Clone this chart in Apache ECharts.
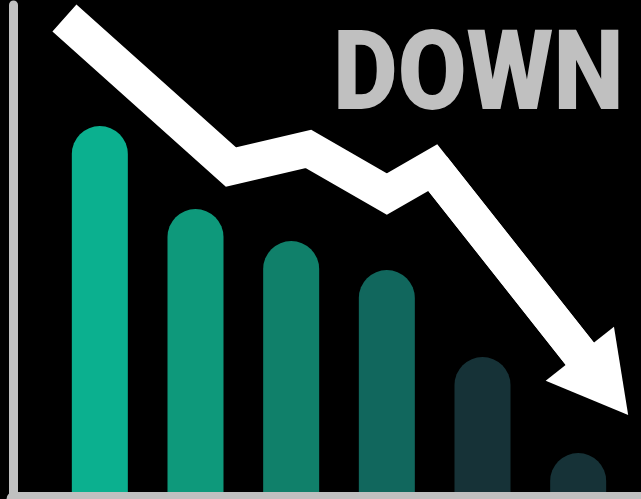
<!DOCTYPE html>
<html><head><meta charset="utf-8">
<script src="https://cdn.jsdelivr.net/npm/echarts@6/dist/echarts.min.js"></script>
<style>html,body{margin:0;padding:0;background:#000}#c{width:641px;height:499px}</style>
</head><body><div id="c"></div>
<script>
// ---- data ----
const categories = ['1', '2', '3', '4', '5', '6'];
const barValues = [91.5, 70.75, 62.75, 55.5, 33.75, 9.75];
const barColors = ['#0bb08f', '#0e997b', '#10806a', '#11675d', '#163237', '#163237'];
// arrow path (x in category-index units, y in bar value units)
const arrowX = [-0.37, 1.37, 2.18, 3.0, 3.48, 5.27];
const arrowY = [118.5, 81.25, 85.75, 74.5, 81.1, 26.9];
const titleText = 'DOWN';

const chart = echarts.init(document.getElementById('c'), null, {renderer: 'canvas'});
const arrowData = arrowX.map((x, i) => [x, arrowY[i]]);
const n = arrowData.length;

chart.setOption({
  backgroundColor: '#000000',
  animation: false,
  grid: [
    {left: 13.5, right: 0, top: 5, bottom: 0},   // frame
    {left: 52, right: 15, top: 92, bottom: 7}    // bars
  ],
  xAxis: [
    {gridIndex: 1, type: 'category', data: categories, show: false},
    {gridIndex: 1, type: 'value', min: -0.5, max: 5.5, show: false},
    {gridIndex: 0, type: 'value', min: 0, max: 1,
      axisLine: {show: true, onZero: false, lineStyle: {color: '#c0c0c0', width: 14}},
      axisTick: {show: false}, axisLabel: {show: false}, splitLine: {show: false}}
  ],
  yAxis: [
    {gridIndex: 1, type: 'value', min: 0, max: 100, show: false},
    {gridIndex: 0, type: 'value', min: 0, max: 1,
      axisLine: {show: true, onZero: false, lineStyle: {color: '#c0c0c0', width: 9}},
      axisTick: {show: false}, axisLabel: {show: false}, splitLine: {show: false}}
  ],
  series: [
    {
      type: 'bar', xAxisIndex: 0, yAxisIndex: 0, barWidth: 56, silent: true,
      data: barValues.map((v, i) => ({value: v, itemStyle: {color: barColors[i]}})),
      itemStyle: {borderRadius: [28, 28, 0, 0]}
    },
    {
      type: 'line', xAxisIndex: 1, yAxisIndex: 0, data: arrowData, clip: false,
      symbol: 'none', showSymbol: false, silent: true, z: 5,
      itemStyle: {color: '#ffffff'},
      lineStyle: {color: '#ffffff', width: 36, cap: 'butt', join: 'miter', miterLimit: 10},
      markLine: {
        silent: true, animation: false,
        symbol: ['none', 'triangle'], symbolSize: [87, 78],
        label: {show: false},
        itemStyle: {color: '#ffffff'},
        lineStyle: {color: '#ffffff', width: 36, type: 'solid', cap: 'butt'},
        emphasis: {disabled: true},
        data: [[
          {coord: arrowData[n - 2], symbol: 'none'},
          {coord: arrowData[n - 1], symbol: 'triangle', symbolSize: [87, 78]}
        ]]
      }
    }
  ],
  graphic: [{
    type: 'text', x: 333, y: 26, scaleX: 0.9, silent: true, z: 10,
    style: {text: titleText, fill: '#c0c0c0', font: '900 111px Roboto',
      textAlign: 'left', textVerticalAlign: 'top'}
  }]
});
</script></body></html>
